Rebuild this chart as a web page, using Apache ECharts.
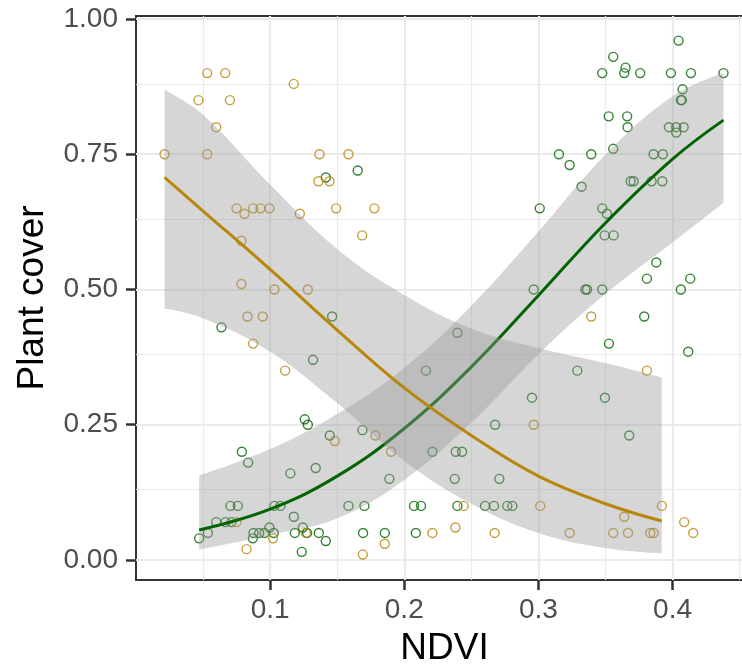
<!DOCTYPE html>
<html>
<head>
<meta charset="utf-8">
<script src="https://cdn.jsdelivr.net/npm/echarts@6/dist/echarts.min.js"></script>
<style>
  html, body { margin: 0; padding: 0; background: #fff; }
  #chart { width: 742px; height: 668px; }
</style>
</head>
<body>
<div id="chart"></div>
<script>
// Observations: NDVI vs plant cover, two groups
const risingX = [0.1415,0.1653,0.3010,0.2965,0.4045,0.3558,0.3650,0.3476,0.3640,0.3759,0.3988,0.4137,0.4380,0.4075,0.4062,0.4070,0.3524,0.3662,0.3665,0.3973,0.4028,0.4083,0.4028,0.3153,0.3394,0.3558,0.3859,0.3928,0.3233,0.3322,0.3688,0.3710,0.3844,0.3924,0.3476,0.3511,0.3494,0.3561,0.3879,0.3809,0.4132,0.4062,0.3350,0.3363,0.3476,0.1462,0.0637,0.1320,0.1258,0.1281,0.1445,0.0789,0.0836,0.1151,0.1340,0.0704,0.0759,0.1032,0.1077,0.1177,0.0598,0.0667,0.0712,0.0471,0.0536,0.0876,0.0918,0.0958,0.0871,0.0995,0.1027,0.1184,0.1244,0.1276,0.1363,0.1415,0.1236,0.2396,0.2162,0.2952,0.2677,0.1688,0.2210,0.2384,0.2431,0.1889,0.2376,0.2709,0.1584,0.1703,0.2073,0.2125,0.2396,0.2602,0.2669,0.2768,0.2806,0.1693,0.1855,0.2086,0.3789,0.3526,0.4117,0.3290,0.3496,0.3677];
const risingY = [0.707,0.72,0.65,0.50,0.96,0.93,0.91,0.90,0.90,0.90,0.90,0.90,0.90,0.87,0.85,0.85,0.82,0.82,0.80,0.80,0.80,0.80,0.79,0.75,0.75,0.76,0.75,0.75,0.73,0.69,0.70,0.70,0.70,0.70,0.65,0.64,0.60,0.60,0.55,0.52,0.52,0.50,0.50,0.50,0.50,0.45,0.43,0.37,0.26,0.25,0.23,0.20,0.18,0.16,0.17,0.10,0.10,0.10,0.10,0.08,0.07,0.07,0.07,0.04,0.05,0.05,0.05,0.05,0.04,0.06,0.05,0.05,0.06,0.05,0.05,0.035,0.015,0.42,0.35,0.30,0.25,0.24,0.20,0.20,0.20,0.15,0.15,0.15,0.10,0.10,0.10,0.10,0.10,0.10,0.10,0.10,0.10,0.05,0.05,0.05,0.45,0.40,0.385,0.35,0.30,0.23];

const fallingX = [0.0531,0.0665,0.1176,0.0466,0.0700,0.0598,0.0213,0.0531,0.1368,0.1584,0.1360,0.1442,0.0749,0.0809,0.0873,0.0928,0.0995,0.1221,0.1492,0.1777,0.1686,0.0786,0.0786,0.1032,0.1281,0.0831,0.0945,0.0873,0.1112,0.1482,0.1785,0.1902,0.0749,0.1022,0.0824,0.1266,0.2443,0.3014,0.2210,0.2381,0.2674,0.1855,0.1691,0.2965,0.3394,0.3809,0.3921,0.3640,0.4087,0.3233,0.3558,0.3668,0.3834,0.3859,0.4154];
const fallingY = [0.90,0.90,0.88,0.85,0.85,0.80,0.75,0.75,0.75,0.75,0.70,0.70,0.65,0.64,0.65,0.65,0.65,0.64,0.65,0.65,0.60,0.59,0.51,0.50,0.50,0.45,0.45,0.40,0.35,0.22,0.23,0.20,0.07,0.04,0.02,0.05,0.10,0.10,0.05,0.06,0.05,0.03,0.01,0.25,0.45,0.35,0.10,0.08,0.07,0.05,0.05,0.05,0.05,0.05,0.05];

// Fitted curves with 95% confidence limits
const risingFitX = [0.0471,0.1,0.15,0.2,0.25,0.3,0.35,0.4,0.438];
const risingFit  = [0.0555,0.094,0.155,0.243,0.357,0.489,0.623,0.741,0.813];
const risingHi   = [0.156,0.205,0.27,0.355,0.47,0.607,0.749,0.857,0.90];
const risingLo   = [0.019,0.046,0.077,0.148,0.254,0.38,0.492,0.587,0.66];

const fallingFitX = [0.0213,0.05,0.1,0.15,0.2,0.25,0.3,0.35,0.392];
const fallingFit  = [0.707,0.645,0.537,0.425,0.318,0.230,0.155,0.104,0.072];
const fallingHi   = [0.869,0.823,0.694,0.575,0.490,0.428,0.392,0.364,0.337];
const fallingLo   = [0.465,0.447,0.385,0.290,0.183,0.104,0.050,0.022,0.012];

// Axis ticks and grid lines
const xTicks = [0.1, 0.2, 0.3, 0.4];
const yTicks = [0, 0.25, 0.5, 0.75, 1];
const xMinor = [0.05, 0.15, 0.25, 0.35, 0.45];
const yMinor = [0.125, 0.375, 0.625, 0.875];

const GREEN = '#006400';
const GOLD = '#b8860b';
const FONT = 'Liberation Sans, Arial, sans-serif';
const SMOOTH = 0.4;

const pairs = (xs, ys) => xs.map((x, i) => [x, ys[i]]);

const majorLine = { color: '#ebebeb', width: 2.2, type: 'solid' };
const minorLine = { color: '#ebebeb', width: 1.2, type: 'solid' };
const gridLines = [
  ...xTicks.map(v => ({ xAxis: v, lineStyle: majorLine })),
  ...xMinor.map(v => ({ xAxis: v, lineStyle: minorLine })),
  ...yTicks.map(v => ({ yAxis: v, lineStyle: majorLine })),
  ...yMinor.map(v => ({ yAxis: v, lineStyle: minorLine }))
];

// Confidence ribbon: a transparent lower edge with the band width stacked on it.
// Values come first in each item so the stack runs along the y dimension.
function band(id, xs, lo, hi, z) {
  const common = {
    type: 'line', stack: id, symbol: 'none', smooth: SMOOTH,
    encode: { x: 1, y: 0 },
    silent: true, z: z, lineStyle: { opacity: 0, width: 0 }
  };
  return [
    Object.assign({}, common, { name: id + ' lower', data: xs.map((x, i) => [lo[i], x]) }),
    Object.assign({}, common, {
      name: id + ' band',
      data: xs.map((x, i) => [hi[i] - lo[i], x]),
      areaStyle: { color: '#999999', opacity: 0.4 }
    })
  ];
}

function fitLine(xs, ys, color, z) {
  return {
    type: 'line', data: pairs(xs, ys), symbol: 'none', smooth: SMOOTH,
    silent: true, z: z, lineStyle: { color: color, width: 3 }
  };
}

function points(xs, ys, color, extra) {
  return Object.assign({
    type: 'scatter', data: pairs(xs, ys), symbol: 'circle', symbolSize: 9, z: 2,
    itemStyle: { color: 'rgba(0,0,0,0)', borderColor: color, borderWidth: 1.4, opacity: 0.8 }
  }, extra || {});
}

const chart = echarts.init(document.getElementById('chart'), null, { renderer: 'canvas' });
chart.setOption({
  animation: false,
  backgroundColor: '#ffffff',
  grid: {
    left: 136, right: -11, top: 16, bottom: 88,
    show: true, backgroundColor: '#ffffff', borderColor: '#333333', borderWidth: 2,
    containLabel: false, outerBoundsMode: 'none'
  },
  xAxis: {
    type: 'value', min: 0, max: 0.46,
    name: 'NDVI', nameLocation: 'middle', nameGap: 50,
    nameTextStyle: { fontSize: 37, color: '#000', fontFamily: FONT },
    axisLine: { show: true, onZero: false, lineStyle: { color: '#333333', width: 2 } },
    axisTick: { show: true, customValues: xTicks, length: 10, lineStyle: { color: '#333333', width: 2.5 } },
    axisLabel: { customValues: xTicks, formatter: v => v.toFixed(1), margin: 16, fontSize: 28, color: '#4d4d4d', fontFamily: FONT },
    splitLine: { show: false }
  },
  yAxis: {
    type: 'value', min: -0.037, max: 1.0055,
    name: 'Plant cover', nameLocation: 'middle', nameGap: 85, nameRotate: 90,
    nameTextStyle: { fontSize: 37, color: '#000', fontFamily: FONT },
    axisLine: { show: true, onZero: false, lineStyle: { color: '#333333', width: 2 } },
    axisTick: { show: true, customValues: yTicks, length: 10, lineStyle: { color: '#333333', width: 2.5 } },
    axisLabel: { customValues: yTicks, formatter: v => v.toFixed(2), margin: 18, fontSize: 28, color: '#4d4d4d', fontFamily: FONT },
    splitLine: { show: false }
  },
  series: [
    points(risingX, risingY, GREEN, {
      markLine: { silent: true, z: 1, symbol: ['none', 'none'], label: { show: false }, animation: false, data: gridLines }
    }),
    points(fallingX, fallingY, GOLD),
    ...band('rising', risingFitX, risingLo, risingHi, 3),
    fitLine(risingFitX, risingFit, GREEN, 4),
    ...band('falling', fallingFitX, fallingLo, fallingHi, 5),
    fitLine(fallingFitX, fallingFit, GOLD, 6)
  ]
});
</script>
</body>
</html>
